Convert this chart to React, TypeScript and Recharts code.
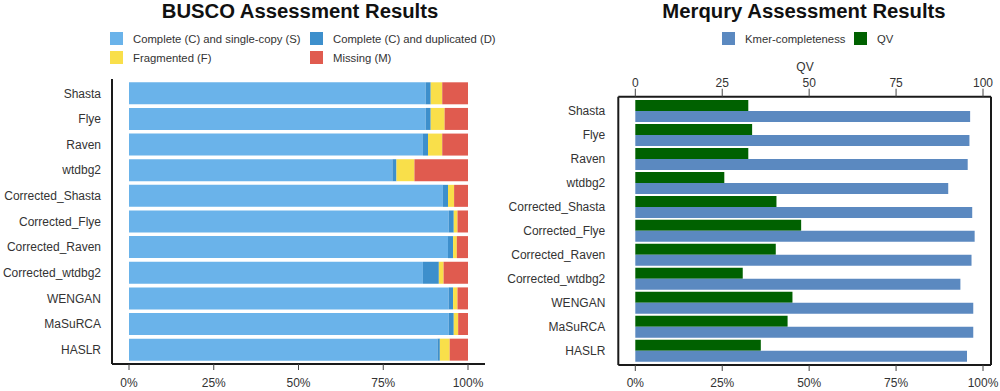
import React from 'react';
import { BarChart, Bar, XAxis, YAxis } from 'recharts';

const assemblies = [
  'Shasta', 'Flye', 'Raven', 'wtdbg2', 'Corrected_Shasta', 'Corrected_Flye',
  'Corrected_Raven', 'Corrected_wtdbg2', 'WENGAN', 'MaSuRCA', 'HASLR',
];

// BUSCO (%)
const singleCopy = [87.5, 87.5, 86.7, 77.7, 92.6, 94.3, 94.1, 86.7, 94.3, 94.3, 91.0];
const duplicated = [1.5, 1.5, 1.5, 1.2, 1.5, 1.5, 1.5, 4.7, 1.3, 1.5, 0.7];
const fragmented = [3.4, 4.1, 4.2, 5.3, 1.8, 1.1, 1.1, 1.4, 1.3, 1.3, 2.9];
const missing = [7.6, 6.9, 7.6, 15.8, 4.1, 3.1, 3.3, 7.2, 3.1, 2.9, 5.4];

// Merqury
const qv = [32.5, 33.6, 32.5, 25.6, 40.6, 47.7, 40.4, 30.9, 45.2, 43.8, 36.1];
const kmerCompleteness = [96.3, 96.1, 95.6, 90.0, 96.9, 97.6, 96.7, 93.5, 97.2, 97.2, 95.4];

const pctTicks = [0, 25, 50, 75, 100];

const buscoData = assemblies.map((name, i) => ({
  name,
  S: singleCopy[i],
  D: duplicated[i],
  F: fragmented[i],
  M: missing[i],
}));

const merquryData = assemblies.map((name, i) => ({
  name,
  qv: qv[i],
  kmer: kmerCompleteness[i],
}));

const FONT = '"Liberation Sans", Arial, Helvetica, sans-serif';
const tickStyle = { fontSize: 12, fill: '#333', fontFamily: FONT };
const axisLine = { stroke: '#1a1a1a', strokeWidth: 2 };
const tickLine = { stroke: '#444', strokeWidth: 1 };
const titleStyle: React.CSSProperties = {
  position: 'absolute', width: 400, top: 0, textAlign: 'center',
  fontSize: 20.3, fontWeight: 'bold', color: '#111',
};

function Swatch({ x, y, color, label }: { x: number; y: number; color: string; label: string }) {
  return (
    <div style={{ position: 'absolute', left: x, top: y, display: 'flex', alignItems: 'center' }}>
      <div style={{ width: 13, height: 13, background: color }} />
      <span style={{ marginLeft: 10, fontSize: 11.3, color: '#333', whiteSpace: 'nowrap' }}>{label}</span>
    </div>
  );
}

export default function App() {
  return (
    <div
      style={{
        position: 'absolute', left: 0, top: 0, width: 1000, height: 391,
        background: '#fff', fontFamily: FONT, overflow: 'hidden',
      }}
    >
      {/* BUSCO */}
      <div style={{ ...titleStyle, left: 100 }}>BUSCO Assessment Results</div>
      <Swatch x={110} y={32} color="#6ab3ea" label="Complete (C) and single-copy (S)" />
      <Swatch x={310} y={32} color="#3d8fcc" label="Complete (C) and duplicated (D)" />
      <Swatch x={110} y={51} color="#f9df4a" label="Fragmented (F)" />
      <Swatch x={310} y={51} color="#e05b4f" label="Missing (M)" />

      <div style={{ position: 'absolute', left: 0, top: 0 }}>
        <BarChart
          width={500}
          height={391}
          data={buscoData}
          layout="vertical"
          margin={{ top: 79, right: 15, bottom: 0, left: 0 }}
          barCategoryGap={1.8}
        >
          <XAxis
            type="number"
            domain={[0, 100]}
            ticks={pctTicks}
            tickFormatter={(v) => `${v}%`}
            padding={{ left: 17, right: 17 }}
            height={27}
            tick={tickStyle}
            axisLine={axisLine}
            tickLine={tickLine}
            tickSize={6}
            tickMargin={8}
          />
          <YAxis
            type="category"
            dataKey="name"
            width={112}
            tick={tickStyle}
            axisLine={axisLine}
            tickLine={false}
            tickSize={6}
            tickMargin={5}
            padding={{ top: 1.5, bottom: 1.5 }}
            interval={0}
          />
          <Bar dataKey="S" stackId="b" fill="#6ab3ea" isAnimationActive={false} />
          <Bar dataKey="D" stackId="b" fill="#3d8fcc" isAnimationActive={false} />
          <Bar dataKey="F" stackId="b" fill="#f9df4a" isAnimationActive={false} />
          <Bar dataKey="M" stackId="b" fill="#e05b4f" isAnimationActive={false} />
        </BarChart>
      </div>

      {/* Merqury */}
      <div style={{ ...titleStyle, left: 604 }}>Merqury Assessment Results</div>
      <Swatch x={722} y={32} color="#5b89c0" label="Kmer-completeness" />
      <Swatch x={854} y={32} color="#006100" label="QV" />
      <div style={{ position: 'absolute', left: 755, width: 100, top: 60, textAlign: 'center', fontSize: 12, color: '#333' }}>
        QV
      </div>

      <div style={{ position: 'absolute', left: 500, top: 0 }}>
        <BarChart
          width={500}
          height={391}
          data={merquryData}
          layout="vertical"
          margin={{ top: 66.7, right: 8, bottom: 0, left: 0 }}
          barCategoryGap={1.2}
          barGap={0}
        >
          <XAxis
            xAxisId="qv"
            orientation="top"
            type="number"
            domain={[0, 100]}
            ticks={pctTicks}
            padding={{ left: 17, right: 8 }}
            height={30}
            tick={tickStyle}
            axisLine={axisLine}
            tickLine={tickLine}
            tickSize={8}
            tickMargin={2}
          />
          <XAxis
            xAxisId="kmer"
            orientation="bottom"
            type="number"
            domain={[0, 100]}
            ticks={pctTicks}
            tickFormatter={(v) => `${v}%`}
            padding={{ left: 17, right: 8 }}
            height={26}
            tick={tickStyle}
            axisLine={axisLine}
            tickLine={tickLine}
            tickSize={6}
            tickMargin={7}
          />
          <YAxis
            yAxisId="cat"
            type="category"
            dataKey="name"
            width={118.3}
            tick={tickStyle}
            axisLine={axisLine}
            tickLine={false}
            tickSize={6}
            tickMargin={7}
            padding={{ top: 2.2, bottom: 2.6 }}
            interval={0}
          />
          <YAxis
            yAxisId="right"
            orientation="right"
            type="category"
            dataKey="name"
            width={1}
            tick={false}
            tickLine={false}
            axisLine={axisLine}
          />
          <Bar dataKey="qv" xAxisId="qv" yAxisId="cat" fill="#006100" isAnimationActive={false} />
          <Bar dataKey="kmer" xAxisId="kmer" yAxisId="cat" fill="#5b89c0" isAnimationActive={false} />
        </BarChart>
      </div>
    </div>
  );
}
